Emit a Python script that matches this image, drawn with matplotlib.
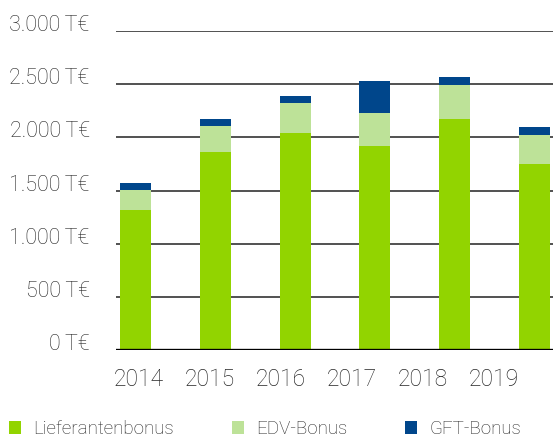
import numpy as np
import matplotlib
matplotlib.use("Agg")
import matplotlib.pyplot as plt
from matplotlib.ticker import FuncFormatter

plt.rcParams['font.family'] = ['Roboto', 'DejaVu Sans']

years = ["2014", "2015", "2016", "2017", "2018", "2019"]
lieferanten = [1313, 1866, 2044, 1922, 2175, 1753]
edv = [196, 243, 281, 309, 319, 272]
gft = [57, 66, 66, 300, 75, 75]
y_ticks = [0, 500, 1000, 1500, 2000, 2500, 3000]

c_green = "#92d400"
c_light = "#bde298"
c_blue = "#00468b"
c_text = "#262626"

fig = plt.figure(figsize=(5.57, 4.41), dpi=100)
ax = fig.add_axes([0.2083, 0.2063, 0.7846, 0.7234])

x = np.arange(len(years))
w = 0.3875
b1 = ax.bar(x, lieferanten, w, color=c_green, zorder=3, label="Lieferantenbonus")
bottom2 = np.array(lieferanten)
b2 = ax.bar(x, edv, w, bottom=bottom2, color=c_light, zorder=3, label="EDV-Bonus")
bottom3 = bottom2 + np.array(edv)
b3 = ax.bar(x, gft, w, bottom=bottom3, color=c_blue, zorder=3, label="GFT-Bonus")

ax.set_xlim(-0.244, 5.231)
ax.set_ylim(0, 3000)
ax.set_yticks(y_ticks)
ax.yaxis.set_major_formatter(FuncFormatter(lambda v, p: "{:,.0f}\u2009T€".format(v).replace(",", ".")))
for v in y_ticks[1:]:
    ax.axhline(v, color="#222222", lw=1.1, zorder=1)
ax.axhline(0, color="#000000", lw=2.4, zorder=4)

# year labels sit slightly left of the bars, as in the original
ax.set_xticks(x * 0.89 + 0.044)
ax.set_xticklabels(years)

for s in ax.spines.values():
    s.set_visible(False)
ax.tick_params(axis="both", length=0, colors=c_text)
ax.tick_params(axis="y", labelsize=15.5, pad=19)
ax.tick_params(axis="x", labelsize=16.5, pad=13)
for t in ax.get_xticklabels() + ax.get_yticklabels():
    t.set_fontweight("light")
# y labels sit on their gridline
for t in ax.get_yticklabels():
    t.set_verticalalignment("baseline")

leg = fig.legend(handles=[b1, b2, b3], loc="center left", bbox_to_anchor=(9 / 557, 0.027),
                 ncol=3, frameon=False, borderpad=0, borderaxespad=0,
                 handlelength=0.64, handleheight=0.64,
                 handletextpad=0.64, columnspacing=3.1, fontsize=13.5)
for t in leg.get_texts():
    t.set_color(c_text)
    t.set_fontweight("light")

fig.savefig("out.png", dpi=100)
